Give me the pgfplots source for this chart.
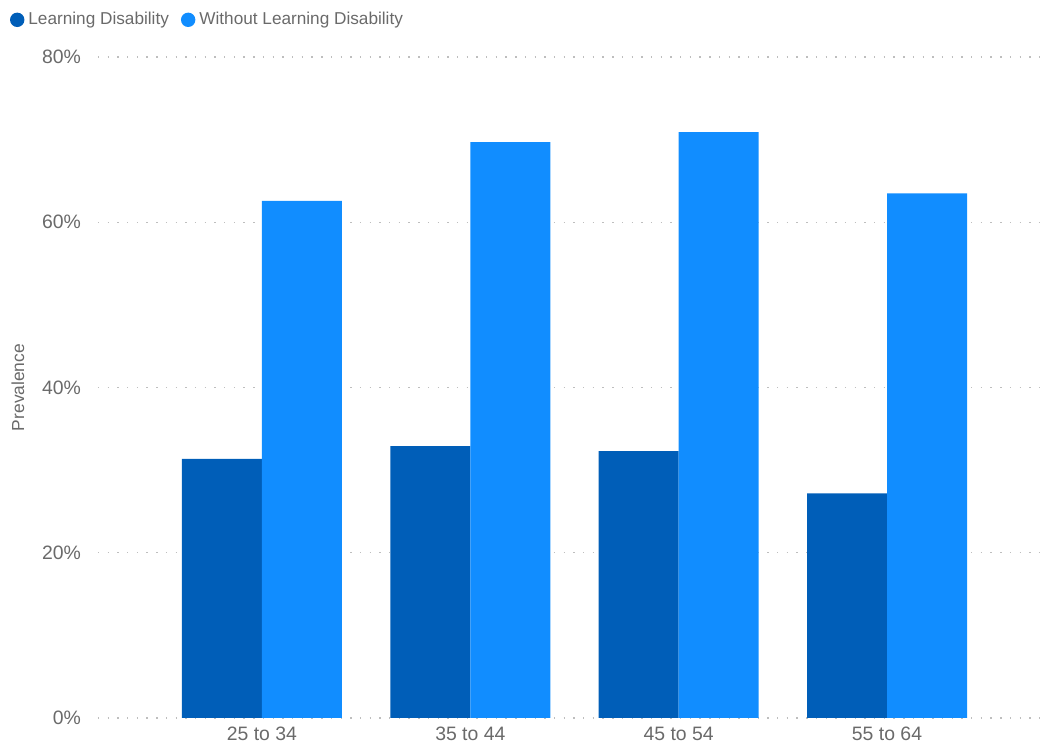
\documentclass[border=0pt]{standalone}
\usepackage{pgfplots}
\pgfplotsset{compat=1.18}
\usepackage{fontspec}
\setmainfont{Liberation Sans}
\definecolor{ld}{HTML}{005EB8}
\definecolor{wld}{HTML}{118DFF}
\definecolor{txt}{HTML}{6A6A6A}
\definecolor{grd}{HTML}{BEBEBE}
\begin{document}
\begin{tikzpicture}
\useasboundingbox (0,0) rectangle (524.5pt,374.5pt);
\begin{axis}[
  at={(49pt,15.5pt)}, anchor=south west,
  scale only axis, width=474.5pt, height=330.5pt,
  ybar=0pt, bar width=40pt,
  xmin=-0.787, xmax=3.768,
  ymin=0, ymax=80,
  xtick=data, xticklabels={25 to 34,35 to 44,45 to 54,55 to 64},
  ytick={0,20,40,60,80},
  yticklabel={\pgfmathprintnumber{\tick}\%},
  /pgf/number format/assume math mode=true,
  axis line style={draw=none},
  major tick length=0pt,
  ymajorgrids,
  grid style={grd, line width=0.7pt, dash pattern=on 0.7pt off 4.15pt},
  ticklabel style={font=\fontsize{9.7}{11}\selectfont, text=txt},
  yticklabel style={xshift=-5pt},
  xticklabel style={yshift=-1pt},
  ylabel={Prevalence},
  ylabel style={at={(axis description cs:-0.0843,0.5)}, anchor=center, font=\fontsize{8.7}{10}\selectfont, text=txt},
  legend columns=-1,
  legend style={at={(axis description cs:-0.0927,1.074)}, anchor=north west, draw=none, fill=none,
    font=\fontsize{8.6}{10}\selectfont, text=txt, inner sep=0pt, outer sep=0pt,
    /tikz/every even column/.append style={column sep=4pt}},
  legend image code/.code={\fill[#1] (3.5pt,0pt) circle (3.6pt);},
  legend cell align=left,
]
\addplot[fill=ld, draw=none] coordinates {(0,31.35) (1,32.9) (2,32.3) (3,27.2)};
\addplot[fill=wld, draw=none] coordinates {(0,62.6) (1,69.7) (2,70.9) (3,63.5)};
\legend{Learning Disability, Without Learning Disability}
\end{axis}
\end{tikzpicture}
\end{document}
